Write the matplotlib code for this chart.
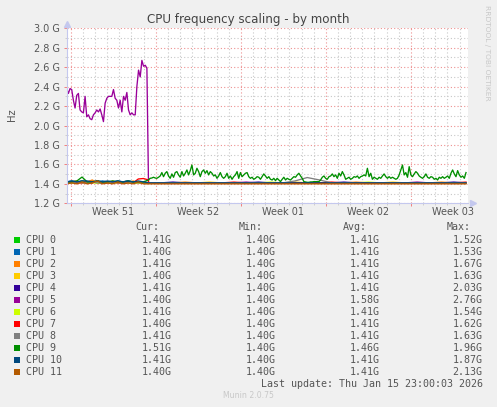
import numpy as np
import matplotlib.pyplot as plt
from matplotlib.patches import Rectangle

# Munin "CPU frequency scaling - by month", values in GHz, x in days since graph start
cpu_names = ['CPU 0', 'CPU 1', 'CPU 2', 'CPU 3', 'CPU 4', 'CPU 5',
             'CPU 6', 'CPU 7', 'CPU 8', 'CPU 9', 'CPU 10', 'CPU 11']
cpu_colors = ['#00CC00', '#0066B3', '#FF8000', '#FFCC00', '#330099', '#990099',
              '#CCFF00', '#FF0000', '#808080', '#008F00', '#00487D', '#B35A00']

cur_vals = ['1.41G', '1.40G', '1.41G', '1.40G', '1.41G', '1.40G',
            '1.41G', '1.40G', '1.41G', '1.51G', '1.41G', '1.40G']
min_vals = ['1.40G'] * 12
avg_vals = ['1.41G', '1.41G', '1.41G', '1.41G', '1.41G', '1.58G',
            '1.41G', '1.41G', '1.41G', '1.46G', '1.41G', '1.41G']
max_vals = ['1.52G', '1.53G', '1.67G', '1.63G', '2.03G', '2.76G',
            '1.54G', '1.62G', '1.63G', '1.96G', '1.87G', '2.13G']

week_labels = ['Week 51', 'Week 52', 'Week 01', 'Week 02', 'Week 03']
y_ticks = [1.2, 1.4, 1.6, 1.8, 2.0, 2.2, 2.4, 2.6, 2.8, 3.0]

# time span / segments (days)
span_days = 33.0
drop_day = 6.73
first_week_line = 0.33
purple_high_end = 6.6
green_end = 32.86

# baseline section before the CPU 5 drop (17 samples)
base_pre = {
    0:  [1.41, 1.42, 1.41, 1.43, 1.41, 1.42, 1.41, 1.41, 1.42, 1.41, 1.43, 1.41, 1.42, 1.41, 1.41, 1.42, 1.41],
    1:  [1.42, 1.43, 1.42, 1.43, 1.42, 1.43, 1.42, 1.43, 1.42, 1.42, 1.43, 1.42, 1.43, 1.42, 1.42, 1.41, 1.41],
    2:  [1.41, 1.42, 1.43, 1.41, 1.42, 1.44, 1.41, 1.42, 1.41, 1.43, 1.41, 1.42, 1.41, 1.43, 1.41, 1.42, 1.41],
    3:  [1.41, 1.41, 1.42, 1.41, 1.41, 1.42, 1.41, 1.42, 1.41, 1.41, 1.42, 1.41, 1.41, 1.42, 1.41, 1.41, 1.41],
    4:  [1.41, 1.42, 1.41, 1.42, 1.41, 1.41, 1.43, 1.41, 1.42, 1.41, 1.42, 1.41, 1.42, 1.41, 1.42, 1.41, 1.41],
    6:  [1.41, 1.41, 1.41, 1.42, 1.41, 1.41, 1.41, 1.42, 1.41, 1.41, 1.41, 1.42, 1.41, 1.41, 1.41, 1.41, 1.41],
    7:  [1.41, 1.42, 1.41, 1.41, 1.42, 1.41, 1.43, 1.41, 1.41, 1.42, 1.41, 1.41, 1.42, 1.41, 1.45, 1.455, 1.44],
    8:  [1.41, 1.41, 1.42, 1.41, 1.41, 1.42, 1.41, 1.41, 1.41, 1.42, 1.41, 1.41, 1.41, 1.42, 1.41, 1.41, 1.41],
    9:  [1.42, 1.42, 1.43, 1.47, 1.42, 1.42, 1.43, 1.42, 1.42, 1.43, 1.42, 1.42, 1.43, 1.42, 1.42, 1.42, 1.44],
    10: [1.42, 1.43, 1.42, 1.43, 1.43, 1.42, 1.43, 1.42, 1.43, 1.42, 1.43, 1.42, 1.43, 1.42, 1.43, 1.42, 1.41],
    11: [1.40, 1.41, 1.40, 1.42, 1.40, 1.41, 1.43, 1.40, 1.41, 1.40, 1.42, 1.40, 1.41, 1.40, 1.42, 1.40, 1.40],
}

# baseline section after the drop (27 samples)
base_post = {
    0:  [1.41, 1.41, 1.412, 1.41, 1.41, 1.41, 1.412, 1.41, 1.41, 1.41, 1.41, 1.412, 1.41, 1.41,
         1.41, 1.41, 1.41, 1.412, 1.41, 1.41, 1.41, 1.41, 1.41, 1.412, 1.41, 1.41, 1.41],
    1:  [1.41, 1.412, 1.41, 1.41, 1.412, 1.41, 1.41, 1.41, 1.412, 1.41, 1.41, 1.41, 1.412, 1.41,
         1.41, 1.412, 1.41, 1.41, 1.41, 1.412, 1.41, 1.41, 1.412, 1.41, 1.41, 1.412, 1.41],
    2:  [1.41, 1.41, 1.41, 1.418, 1.41, 1.41, 1.41, 1.41, 1.41, 1.41, 1.41, 1.41, 1.41, 1.41,
         1.41, 1.41, 1.41, 1.418, 1.41, 1.41, 1.41, 1.41, 1.41, 1.41, 1.418, 1.41, 1.41],
    3:  [1.41, 1.41, 1.41, 1.41, 1.41, 1.418, 1.41, 1.41, 1.41, 1.41, 1.41, 1.41, 1.418, 1.41,
         1.41, 1.41, 1.41, 1.41, 1.41, 1.41, 1.418, 1.41, 1.41, 1.41, 1.41, 1.41, 1.41],
    4:  [1.41, 1.41, 1.418, 1.41, 1.41, 1.41, 1.41, 1.41, 1.41, 1.418, 1.41, 1.41, 1.41, 1.41,
         1.41, 1.41, 1.418, 1.41, 1.41, 1.41, 1.41, 1.41, 1.41, 1.41, 1.41, 1.418, 1.41],
    5:  [1.41, 1.41, 1.41, 1.41, 1.41, 1.41, 1.41, 1.41, 1.418, 1.41, 1.41, 1.41, 1.41, 1.41,
         1.41, 1.41, 1.41, 1.41, 1.41, 1.41, 1.41, 1.41, 1.418, 1.41, 1.41, 1.41, 1.41],
    6:  [1.41, 1.41, 1.41, 1.41, 1.41, 1.41, 1.41, 1.41, 1.41, 1.41, 1.418, 1.41, 1.41, 1.41,
         1.41, 1.41, 1.41, 1.41, 1.418, 1.41, 1.41, 1.41, 1.41, 1.41, 1.41, 1.41, 1.41],
    7:  [1.41, 1.41, 1.41, 1.41, 1.41, 1.41, 1.41, 1.418, 1.41, 1.41, 1.41, 1.41, 1.41, 1.41,
         1.41, 1.418, 1.41, 1.41, 1.41, 1.41, 1.41, 1.41, 1.41, 1.41, 1.41, 1.41, 1.418],
    8:  [1.41, 1.41, 1.41, 1.41, 1.41, 1.41, 1.41, 1.41, 1.41, 1.41, 1.41, 1.41, 1.43, 1.465,
         1.44, 1.41, 1.41, 1.41, 1.41, 1.41, 1.41, 1.41, 1.41, 1.41, 1.41, 1.41, 1.41],
    10: [1.41, 1.41, 1.41, 1.41, 1.41, 1.41, 1.41, 1.41, 1.41, 1.41, 1.41, 1.41, 1.41, 1.41,
         1.41, 1.41, 1.41, 1.41, 1.41, 1.41, 1.41, 1.41, 1.41, 1.41, 1.41, 1.41, 1.41],
    11: [1.40, 1.40, 1.40, 1.40, 1.40, 1.40, 1.40, 1.40, 1.40, 1.40, 1.40, 1.40, 1.40, 1.40,
         1.40, 1.40, 1.40, 1.40, 1.40, 1.40, 1.40, 1.40, 1.40, 1.40, 1.40, 1.40, 1.40],
}

# CPU 5 high section before the drop (49 samples)
cpu5_high = [2.38, 2.33, 2.38, 2.37, 2.26, 2.18, 2.31, 2.33, 2.16, 2.14, 2.13, 2.30, 2.09,
             2.11, 2.07, 2.06, 2.11, 2.13, 2.16, 2.14, 2.17, 2.11, 2.04, 2.23, 2.28, 2.30,
             2.30, 2.30, 2.37, 2.28, 2.26, 2.18, 2.26, 2.14, 2.30, 2.26, 2.34, 2.16, 2.11,
             2.13, 2.11, 2.11, 2.40, 2.57, 2.50, 2.67, 2.61, 2.62, 2.59]

# CPU 9 after the drop (191 samples)
cpu9_post = [
    1.440, 1.457, 1.460, 1.468, 1.460, 1.457, 1.468, 1.481, 1.516, 1.474, 1.509, 1.526, 1.481, 1.457,
    1.502, 1.468, 1.516, 1.526, 1.492, 1.468, 1.526, 1.481, 1.509, 1.543, 1.492, 1.536, 1.594, 1.492,
    1.509, 1.560, 1.526, 1.474, 1.526, 1.543, 1.509, 1.536, 1.492, 1.526, 1.509, 1.481, 1.492, 1.457,
    1.481, 1.516, 1.474, 1.457, 1.474, 1.509, 1.457, 1.481, 1.447, 1.474, 1.492, 1.526, 1.457, 1.516,
    1.474, 1.492, 1.509, 1.516, 1.474, 1.457, 1.468, 1.447, 1.457, 1.474, 1.468, 1.447, 1.474, 1.502,
    1.481, 1.457, 1.474, 1.447, 1.440, 1.457, 1.433, 1.457, 1.440, 1.423, 1.447, 1.468, 1.440, 1.457,
    1.447, 1.440, 1.457, 1.474, 1.468, 1.492, 1.509, 1.481, 1.457, 1.423, 1.420, 1.416, 1.416, 1.420,
    1.420, 1.423, 1.423, 1.423, 1.423, 1.440, 1.468, 1.481, 1.457, 1.447, 1.474,
    1.481, 1.502, 1.474, 1.492, 1.457, 1.509, 1.481, 1.526, 1.492, 1.447, 1.457, 1.468, 1.447, 1.457,
    1.474, 1.468, 1.481, 1.457, 1.474, 1.481, 1.492, 1.481, 1.560, 1.474, 1.509, 1.447, 1.468, 1.457,
    1.447, 1.468, 1.457, 1.481, 1.502, 1.474, 1.457, 1.474, 1.457, 1.468, 1.457, 1.447, 1.457, 1.492,
    1.543, 1.594, 1.492, 1.516, 1.468, 1.577, 1.492, 1.474, 1.502, 1.526, 1.509, 1.481, 1.468, 1.457,
    1.474, 1.502, 1.468, 1.457, 1.474, 1.468, 1.447, 1.457, 1.440, 1.468, 1.457, 1.474, 1.457, 1.468,
    1.481, 1.457, 1.509, 1.543, 1.502, 1.474, 1.536, 1.492, 1.468, 1.481, 1.457, 1.516,
]

W, H = 497, 407
BG = '#F0F0F0'
TXT = '#555555'


def fx(px):
    return px / W


def fy(py):
    return 1 - py / H


fig = plt.figure(figsize=(W / 100, H / 100), dpi=100, facecolor=BG)
ax = fig.add_axes([fx(66.7), fy(203.3), 401 / W, 175 / H])
ax.set_facecolor('white')

t_pre = np.linspace(0, drop_day, len(base_pre[0]))
t_post = np.linspace(drop_day, green_end, len(base_post[0]))
t_high = np.linspace(0, purple_high_end, len(cpu5_high))
t_green = np.linspace(drop_day, green_end, len(cpu9_post))

for i in range(12):
    if i == 5:
        t = np.concatenate([t_high, t_post])
        v = np.concatenate([cpu5_high, base_post[5]])
    elif i == 9:
        t = np.concatenate([t_pre, t_green])
        v = np.concatenate([base_pre[9], cpu9_post])
    else:
        t = np.concatenate([t_pre, t_post])
        v = np.concatenate([base_pre[i], base_post[i]])
    ax.plot(t, v, color=cpu_colors[i], lw=0.95, solid_joinstyle='round')

ax.set_xlim(0, span_days)
ax.set_ylim(y_ticks[0], y_ticks[-1])

# grid
week_lines = np.arange(first_week_line, span_days, 7)
day_lines = np.arange(first_week_line % 1, span_days, 1)
ax.set_xticks(week_lines)
ax.set_xticklabels([''] * len(week_lines))
ax.set_xticks(day_lines, minor=True)
ax.set_yticks(y_ticks)
ax.set_yticklabels(['%.1f G' % v for v in y_ticks])
ax.set_yticks(np.arange(1.3, 3.0, 0.2), minor=True)
ax.grid(which='major', color='#EE9090', linestyle=(0, (1, 2)), lw=0.8)
ax.grid(which='minor', color='#C8C8C8', linestyle=(0, (1, 2)), lw=0.8)
ax.set_axisbelow(True)
ax.tick_params(which='major', direction='out', length=2, width=0.7, color='#F08080',
               labelsize=7, labelcolor=TXT, pad=3)
ax.tick_params(which='minor', direction='out', length=1.5, width=0.6, color='#C8C8C8')

for w, lab in zip(week_lines, week_labels):
    ax.text(w + 3.5, -0.052, lab, transform=ax.get_xaxis_transform(),
            ha='center', va='center', fontsize=7, color=TXT)

for s in ['top', 'right']:
    ax.spines[s].set_visible(False)
for s in ['left', 'bottom']:
    ax.spines[s].set_color('#C4C8EE')
    ax.spines[s].set_linewidth(0.8)
ax.plot([0], [1.025], marker='^', ms=4, color='#C4C8EE', transform=ax.transAxes, clip_on=False)
ax.plot([1.013], [0], marker='>', ms=4, color='#C4C8EE', transform=ax.transAxes, clip_on=False)

# texts
fig.text(fx(248), fy(19), 'CPU frequency scaling - by month', ha='center', va='center',
         fontsize=8.6, color='#444444')
fig.text(fx(11.7), fy(115), 'Hz', rotation=90, ha='center', va='center', fontsize=7.2, color=TXT)
fig.text(fx(487), fy(53), 'RRDTOOL / TOBI OETIKER', rotation=270, ha='center', va='center',
         fontsize=5.4, color='#C8C8C8')
fig.text(fx(248), fy(396), 'Munin 2.0.75', ha='center', va='center', fontsize=5.6, color='#C8C8C8')

# legend
mono = 'DejaVu Sans Mono'
mfs = 7.2
col_hdr = [159.3, 263.0, 366.7, 470.3]
col_val = [171.7, 275.3, 379.3, 482.7]
for x, h in zip(col_hdr, ['Cur:', 'Min:', 'Avg:', 'Max:']):
    fig.text(fx(x), fy(227.3), h, ha='right', va='center', family=mono, fontsize=mfs, color=TXT)
for i in range(12):
    yc = 239.7 + 12.0 * i
    fig.patches.append(Rectangle((fx(14), fy(yc + 3)), 6 / W, 6 / H, transform=fig.transFigure,
                                 facecolor=cpu_colors[i], edgecolor='none'))
    fig.text(fx(26.3), fy(yc), cpu_names[i], ha='left', va='center', family=mono, fontsize=mfs, color=TXT)
    for x, vals in zip(col_val, [cur_vals, min_vals, avg_vals, max_vals]):
        fig.text(fx(x), fy(yc), vals[i], ha='right', va='center', family=mono, fontsize=mfs, color=TXT)
fig.text(fx(482.7), fy(383.7), 'Last update: Thu Jan 15 23:00:03 2026', ha='right', va='center',
         family=mono, fontsize=mfs, color=TXT)

fig.savefig('out.png', dpi=100, facecolor=BG)
